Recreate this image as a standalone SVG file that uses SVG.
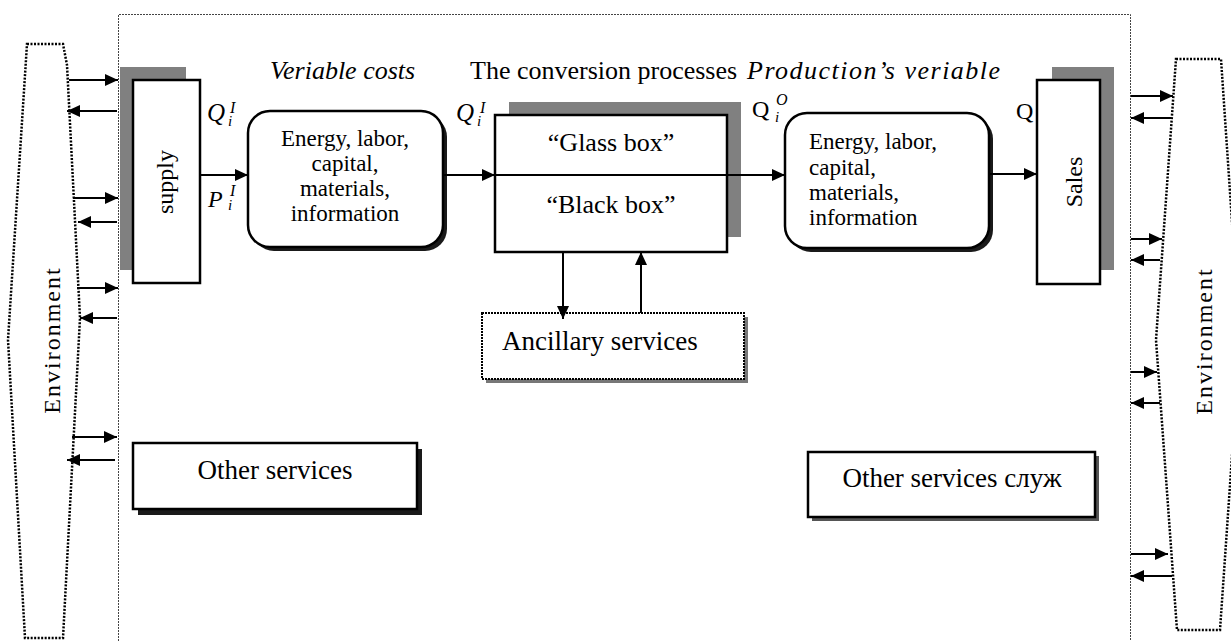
<svg xmlns="http://www.w3.org/2000/svg" width="1231" height="641" viewBox="0 0 1231 641" font-family="'Liberation Serif', 'Times New Roman', serif">
<defs>
<style>
.box{fill:#fff;stroke:#000;stroke-width:2.5}
.gray{fill:#808080}
.dark{fill:#1a1a1a}
.env{fill:none;stroke:#000;stroke-width:2.5;stroke-dasharray:2 1.5}
.ln{fill:none;stroke:#000;stroke-width:2}
</style>
<marker id="ah" markerUnits="userSpaceOnUse" markerWidth="14" markerHeight="12" refX="13" refY="6" orient="auto">
<path d="M0,0 L13,6 L0,12 z" fill="#000"/>
</marker>
</defs>
<rect width="1231" height="641" fill="#fff"/>

<g id="boundary">
<path d="M118.5,641 V14.5 H1130.5 V641" fill="none" stroke="#444" stroke-width="1" stroke-dasharray="2 1"/>
</g>

<g id="env-left">
<polygon class="env" points="27,44 63,44 67,65 80,318 63,638 25,638 8,340"/>
<text transform="translate(60,340) rotate(-90)" text-anchor="middle" font-size="24" letter-spacing="2">Environment</text>
</g>

<g id="env-right">
<polygon class="env" points="1176,59 1221,59 1240,340 1220,630 1177,630 1156,340"/>
<text transform="translate(1212,341) rotate(-90)" text-anchor="middle" font-size="24" letter-spacing="2">Environment</text>
</g>

<g id="supply">
<rect class="gray" x="120" y="67" width="66" height="203"/>
<rect class="box" x="133" y="80" width="67" height="203"/>
<text transform="translate(173,182) rotate(-90)" text-anchor="middle" font-size="24">supply</text>
</g>

<g id="costs">
<rect class="dark" x="252" y="115" width="195" height="136" rx="22"/>
<rect class="box" x="248" y="111" width="195" height="136" rx="22"/>
<text font-size="23" text-anchor="middle"><tspan x="345" y="146">Energy, labor,</tspan><tspan x="345" y="171">capital,</tspan><tspan x="345" y="196">materials,</tspan><tspan x="345" y="221">information</tspan></text>
</g>

<g id="conversion">
<rect class="gray" x="509" y="102" width="232" height="135"/>
<rect class="box" x="495" y="115" width="232" height="137"/>
<text font-size="26" x="611" y="151" text-anchor="middle">“Glass box”</text>
<text font-size="26" x="611" y="213" text-anchor="middle">“Black box”</text>
</g>

<g id="ancillary">
<rect x="486" y="317" width="262" height="66" fill="#777"/>
<rect x="482" y="313" width="262" height="66" fill="#fff" stroke="#000" stroke-width="2" stroke-dasharray="2 1"/>
<text font-size="27" x="502" y="350">Ancillary services</text>
</g>

<g id="production">
<rect class="dark" x="789" y="117" width="204" height="135" rx="22"/>
<rect class="box" x="785" y="113" width="204" height="135" rx="22"/>
<text font-size="23"><tspan x="809" y="149">Energy, labor,</tspan><tspan x="809" y="175">capital,</tspan><tspan x="809" y="200">materials,</tspan><tspan x="809" y="225">information</tspan></text>
</g>

<g id="sales">
<rect class="gray" x="1052" y="67" width="62" height="203"/>
<rect class="box" x="1037" y="80" width="63" height="204"/>
<text transform="translate(1082,182) rotate(-90)" text-anchor="middle" font-size="24">Sales</text>
</g>

<g id="other-left">
<rect class="dark" x="138" y="449" width="284" height="66"/>
<rect class="box" x="133" y="443" width="284" height="66"/>
<text font-size="27" x="275" y="479" text-anchor="middle">Other services</text>
</g>

<g id="other-right">
<rect x="812" y="456" width="287" height="65" fill="#555"/>
<rect class="box" x="808" y="452" width="287" height="65"/>
<text font-size="27" x="952" y="487" text-anchor="middle">Other services служ</text>
</g>

<g id="labels">
<text font-style="italic" x="270" y="79" font-size="26">Veriable costs</text>
<text x="470" y="79" font-size="26">The conversion processes</text>
<text font-style="italic" x="747" y="79" font-size="26" letter-spacing="1.5">Production’s veriable</text>
<text font-style="italic" x="207" y="121" font-size="25">Q</text>
<text font-style="italic" x="230" y="113" font-size="16">I</text>
<text font-style="italic" x="228" y="126" font-size="15">i</text>
<text font-style="italic" x="208" y="207" font-size="24">P</text>
<text font-style="italic" x="230" y="196" font-size="16">I</text>
<text font-style="italic" x="228" y="210" font-size="15">i</text>
<text font-style="italic" x="456" y="121" font-size="25">Q</text>
<text font-style="italic" x="480" y="113" font-size="16">I</text>
<text font-style="italic" x="477" y="126" font-size="15">i</text>
<text x="752" y="117" font-size="24">Q</text>
<text font-style="italic" x="776" y="105" font-size="16">O</text>
<text font-style="italic" x="775" y="122" font-size="15">i</text>
<text x="1016" y="119" font-size="24">Q</text>
</g>

<g id="connectors">
<line class="ln" x1="200" y1="175" x2="248" y2="175" marker-end="url(#ah)"/>
<line class="ln" x1="443" y1="175" x2="495" y2="175" marker-end="url(#ah)"/>
<line class="ln" x1="495" y1="175" x2="785" y2="175" marker-end="url(#ah)"/>
<line class="ln" x1="989" y1="174" x2="1037" y2="174" marker-end="url(#ah)"/>
<line class="ln" x1="563" y1="252" x2="563" y2="319" marker-end="url(#ah)"/>
<line class="ln" x1="641" y1="313" x2="641" y2="252" marker-end="url(#ah)"/>
<line class="ln" x1="69" y1="80" x2="118" y2="80" marker-end="url(#ah)"/>
<line class="ln" x1="117" y1="111" x2="67" y2="111" marker-end="url(#ah)"/>
<line class="ln" x1="73" y1="198" x2="118" y2="198" marker-end="url(#ah)"/>
<line class="ln" x1="117" y1="222" x2="78" y2="222" marker-end="url(#ah)"/>
<line class="ln" x1="77" y1="288" x2="118" y2="288" marker-end="url(#ah)"/>
<line class="ln" x1="117" y1="318" x2="80" y2="318" marker-end="url(#ah)"/>
<line class="ln" x1="72" y1="437" x2="117" y2="437" marker-end="url(#ah)"/>
<line class="ln" x1="115" y1="460" x2="67" y2="460" marker-end="url(#ah)"/>
<line class="ln" x1="1131" y1="96" x2="1173" y2="96" marker-end="url(#ah)"/>
<line class="ln" x1="1171" y1="118" x2="1131" y2="118" marker-end="url(#ah)"/>
<line class="ln" x1="1131" y1="239" x2="1162" y2="239" marker-end="url(#ah)"/>
<line class="ln" x1="1160" y1="260" x2="1131" y2="260" marker-end="url(#ah)"/>
<line class="ln" x1="1131" y1="372" x2="1157" y2="372" marker-end="url(#ah)"/>
<line class="ln" x1="1160" y1="403" x2="1131" y2="403" marker-end="url(#ah)"/>
<line class="ln" x1="1131" y1="554" x2="1168" y2="554" marker-end="url(#ah)"/>
<line class="ln" x1="1172" y1="576" x2="1131" y2="576" marker-end="url(#ah)"/>
</g>
</svg>
